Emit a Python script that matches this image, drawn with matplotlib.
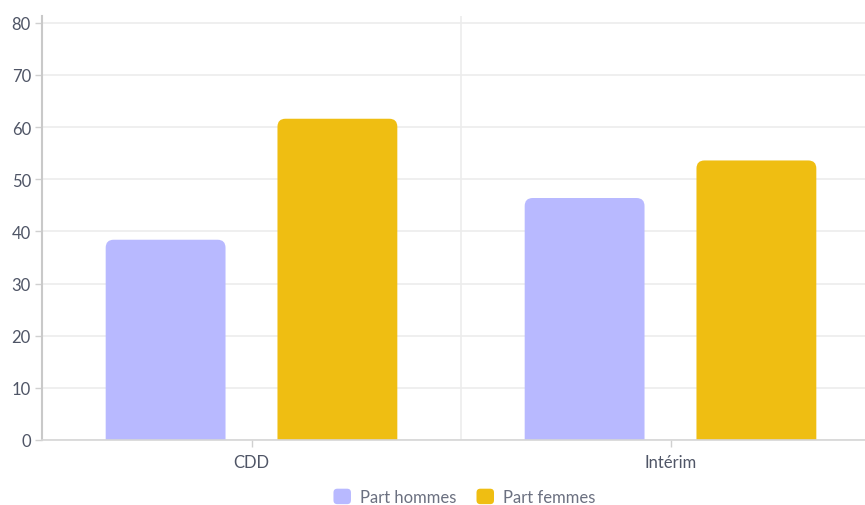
import numpy as np
import matplotlib.pyplot as plt
from matplotlib.patches import FancyBboxPatch, Patch
from matplotlib.legend_handler import HandlerPatch

plt.rcParams['font.family'] = ['Lato', 'DejaVu Sans']

categories = ['CDD', 'Intérim']
part_hommes = [38.4, 46.4]
part_femmes = [61.6, 53.6]
y_ticks = [0, 10, 20, 30, 40, 50, 60, 70, 80]

color_h = '#b8b9ff'
color_f = '#efbe12'
text_color = '#4f5566'
grid_color = '#ececec'


class RoundedSquare(HandlerPatch):
    def create_artists(self, legend, orig_handle, xdescent, ydescent,
                       width, height, fontsize, trans):
        p = FancyBboxPatch((-xdescent, -ydescent), width, height,
                           boxstyle=f'round,pad=0,rounding_size={width * 0.22}',
                           facecolor=orig_handle.get_facecolor(),
                           edgecolor='none', transform=trans)
        return [p]


fig = plt.figure(figsize=(8.65, 5.06), dpi=100)
ax = fig.add_axes([42 / 865, 1 - 441 / 506, 838 / 865, 424 / 506])

x = np.arange(len(categories))
offset = 0.205
width = 0.286

bars_h = ax.bar(x - offset, part_hommes, width, color=color_h)
bars_f = ax.bar(x + offset, part_femmes, width, color=color_f)

# replace plain bars with rounded-top versions (bottom rounding hidden below 0)
ylim = (0, 81.3)
px_x = 838 / 2.0          # pixels per x unit
px_y = 424 / ylim[1]      # pixels per y unit
r = 8 / px_x
aspect = px_x / px_y
for bar in list(bars_h) + list(bars_f):
    bx, bw, bh = bar.get_x(), bar.get_width(), bar.get_height()
    bar.set_visible(False)
    patch = FancyBboxPatch((bx, -5), bw, bh + 5,
                           boxstyle=f'round,pad=0,rounding_size={r}',
                           mutation_aspect=aspect,
                           facecolor=bar.get_facecolor(), edgecolor='none',
                           zorder=2)
    ax.add_patch(patch)

ax.set_xlim(-0.5, 1.5)
ax.set_ylim(*ylim)
ax.set_yticks(y_ticks)
ax.set_xticks(x)
ax.set_xticklabels(categories)

ax.grid(axis='y', color=grid_color, linewidth=1.2, zorder=0)
ax.axvline(0.5, color=grid_color, linewidth=1.2, zorder=0)
ax.set_axisbelow(True)

for side in ['top', 'right']:
    ax.spines[side].set_visible(False)
ax.spines['left'].set_color('#c9c9c9')
ax.spines['left'].set_linewidth(1.5)
ax.spines['bottom'].set_color('#d6d6d6')
ax.spines['bottom'].set_linewidth(1.2)

ax.tick_params(axis='y', length=5, width=1, color='#d0d0d0',
               labelsize=12, labelcolor=text_color, pad=3)
ax.tick_params(axis='x', length=5, width=1, color='#d0d0d0',
               labelsize=12, labelcolor=text_color, pad=5)

handles = [Patch(facecolor=color_h, label='Part hommes'),
           Patch(facecolor=color_f, label='Part femmes')]
fig.legend(handles=handles, loc='center', bbox_to_anchor=(0.537, 0.016),
           ncol=2, frameon=False, fontsize=12, labelcolor='#6b7080',
           handlelength=1.05, handleheight=1.05, handletextpad=0.55,
           columnspacing=1.2,
           handler_map={Patch: RoundedSquare()})

fig.savefig('out.png', dpi=100)
